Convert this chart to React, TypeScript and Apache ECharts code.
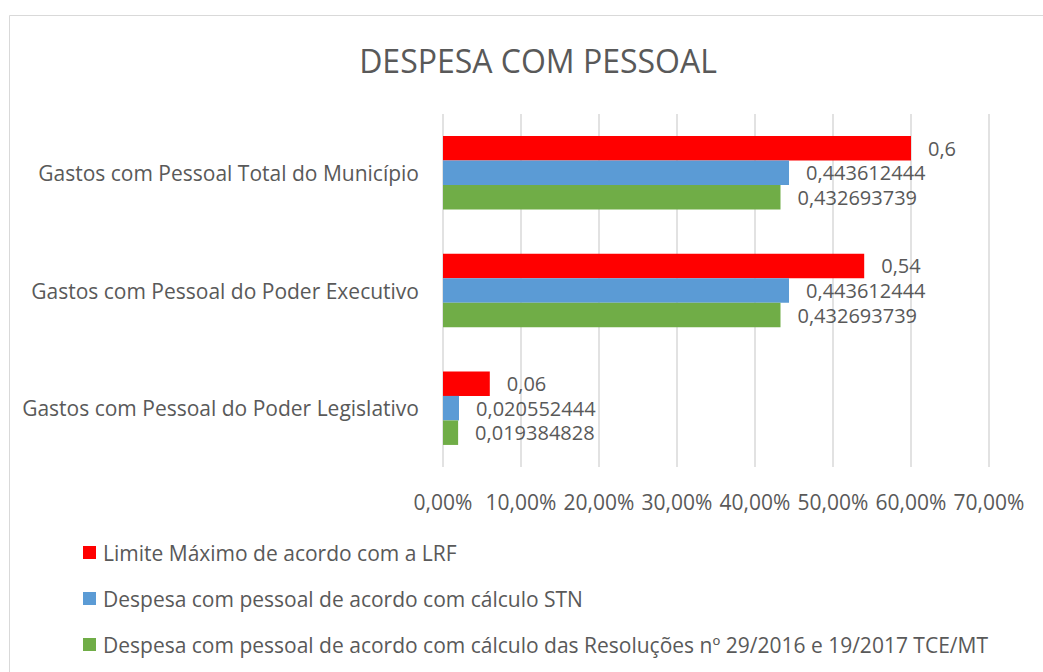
import React, { useEffect, useRef } from "react";
import * as echarts from "echarts";

const categories = [
  "Gastos com Pessoal Total do Município",
  "Gastos com Pessoal do Poder Executivo",
  "Gastos com Pessoal do Poder Legislativo",
];
const seriesNames = [
  "Limite Máximo de acordo com a LRF",
  "Despesa com pessoal de acordo com cálculo STN",
  "Despesa com pessoal de acordo com cálculo das Resoluções nº 29/2016 e 19/2017 TCE/MT",
];
const limiteLRF = [0.6, 0.54, 0.06];
const despesaSTN = [0.443612444, 0.443612444, 0.020552444];
const despesaTCE = [0.432693739, 0.432693739, 0.019384828];
const colors = ["#FF0000", "#5B9BD5", "#70AD47"];

const FONT = "'Open Sans', sans-serif";
const TXT = "#595959";
const FS = 21;

export default function App() {
  const ref = useRef<HTMLDivElement>(null);
  useEffect(() => {
    if (!ref.current) return;
    const chart = echarts.init(ref.current, undefined, { renderer: "svg" });
    const values = [limiteLRF, despesaSTN, despesaTCE];
    chart.setOption({
      animation: false,
      backgroundColor: "#ffffff",
      textStyle: { fontFamily: FONT },
      title: {
        text: "DESPESA COM PESSOAL",
        left: 533,
        textAlign: "center",
        top: 39,
        textStyle: { fontFamily: FONT, fontSize: 32, fontWeight: "normal", color: TXT },
      },
      graphic: [
        {
          type: "rect",
          shape: { x: 9.5, y: 15.5, width: 1100, height: 700 },
          style: { fill: "none", stroke: "#d9d9d9", lineWidth: 1 },
          silent: true,
          z: -1,
        },
      ],
      legend: {
        orient: "vertical",
        left: 83,
        top: 542,
        padding: 0,
        itemGap: 25,
        itemWidth: 13,
        itemHeight: 13,
        icon: "rect",
        data: seriesNames,
        textStyle: { fontFamily: FONT, fontSize: FS, color: TXT, padding: [0, 0, 0, 2] },
      },
      grid: { left: 443, right: 54, top: 114, bottom: 205 },
      xAxis: {
        type: "value",
        min: 0,
        max: 0.7,
        interval: 0.1,
        axisLine: { show: false },
        axisTick: { show: false },
        splitLine: { lineStyle: { color: "#d9d9d9", width: 1.5 } },
        axisLabel: {
          margin: 24,
          fontFamily: FONT,
          fontSize: FS,
          color: TXT,
          formatter: (v: number) => (v * 100).toFixed(2).replace(".", ",") + "%",
        },
      },
      yAxis: {
        type: "category",
        inverse: true,
        data: categories,
        axisLine: { show: false },
        axisTick: { show: false },
        axisLabel: { margin: 24, fontFamily: FONT, fontSize: FS, color: TXT },
      },
      series: seriesNames.map((name, i) => ({
        name,
        type: "bar",
        data: values[i],
        barGap: "0%",
        barCategoryGap: "37.5%",
        itemStyle: { color: colors[i] },
        label: {
          show: true,
          position: "right",
          distance: 17,
          fontFamily: FONT,
          fontSize: 20,
          lineHeight: 20,
          color: TXT,
          formatter: (p: any) => String(p.value).replace(".", ","),
        },
      })),
    });
    return () => chart.dispose();
  }, []);
  return (
    <div
      ref={ref}
      style={{ position: "fixed", left: 0, top: 0, width: 1043, height: 672 }}
    />
  );
}
